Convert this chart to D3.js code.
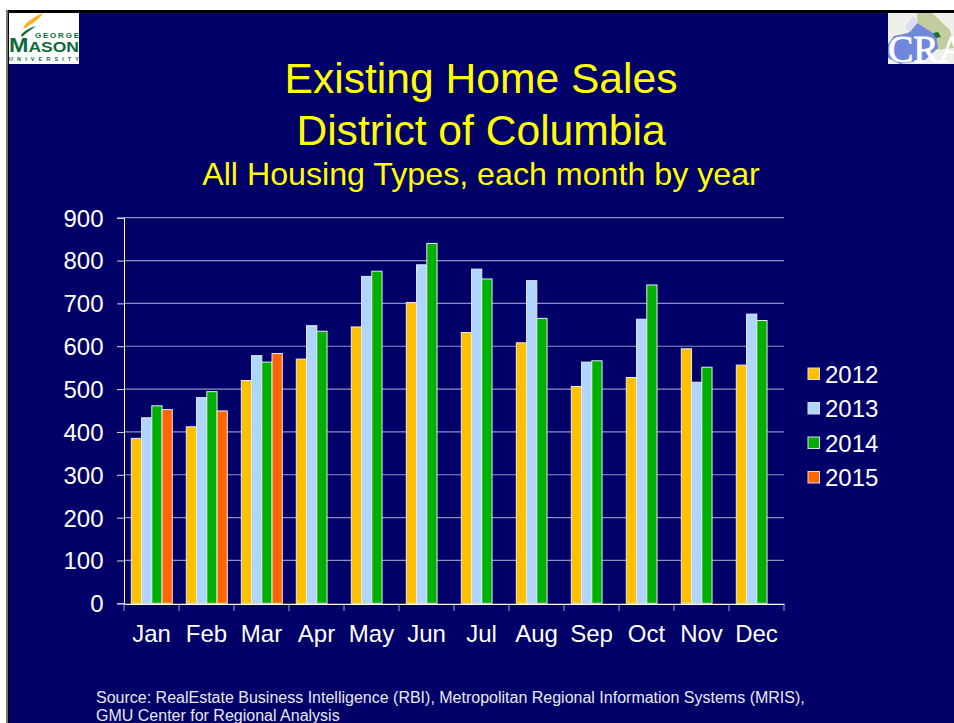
<!DOCTYPE html>
<html><head><meta charset="utf-8">
<script src="https://cdn.jsdelivr.net/npm/d3@7/dist/d3.min.js"></script>
<style>html,body{margin:0;padding:0;background:#fff;overflow:hidden}svg{display:block}text{font-family:"Liberation Sans",Arial,sans-serif}</style>
</head><body><svg id="c" width="954" height="723"></svg>
<script>
const months=["Jan","Feb","Mar","Apr","May","Jun","Jul","Aug","Sep","Oct","Nov","Dec"];
const years=["2012","2013","2014","2015"];
const colors=["#ffc000","#aed6ff","#00b000","#ff6600"];
const s2012=[385,412,520,570,645,702,632,608,506,527,594,556];
const s2013=[433,480,578,648,763,790,780,753,563,663,516,675];
const s2014=[461,494,563,635,775,840,757,665,566,743,551,660];
const s2015=[452,449,583];
const series=[s2012,s2013,s2014,s2015];
const yTicks=d3.range(0,901,100);
const titleLines=["Existing Home Sales","District of Columbia"];
const subtitle="All Housing Types, each month by year";
const source=["Source: RealEstate Business Intelligence (RBI), Metropolitan Regional Information Systems (MRIS),","GMU Center for Regional Analysis"];

const svg=d3.select("#c");
svg.append("rect").attr("x",6).attr("y",10).attr("width",948).attr("height",713).attr("fill","#000");
svg.append("rect").attr("x",6).attr("y",10).attr("width",2).attr("height",713).attr("fill","#777");
svg.append("rect").attr("x",9).attr("y",13).attr("width",945).attr("height",710).attr("fill","#000068");

// George Mason logo
const gm=svg.append("g");
gm.append("rect").attr("x",9).attr("y",13).attr("width",70).attr("height",51).attr("fill","#fff");
gm.append("path").attr("d","M23 28 C27 21 34 17 43 13 C39 20 33 23 25 28Z").attr("fill","#f2b51c");
gm.append("path").attr("d","M21 35 C25 30 30 28 36 26 C31 30 27 32 22 37Z").attr("fill","#0b6b3a");
gm.append("text").attr("x",79).attr("y",37.5).attr("text-anchor","end").attr("font-size",8).attr("font-weight","bold").attr("textLength",44).attr("fill","#0b6b3a").text("GEORGE");
const mason=gm.append("text").attr("x",9).attr("y",52).attr("font-weight","bold").attr("textLength",70).attr("lengthAdjust","spacingAndGlyphs").attr("fill","#0b6b3a");
mason.append("tspan").attr("font-size",20).text("M");
mason.append("tspan").attr("font-size",15).text("ASON");
gm.append("text").attr("x",9).attr("y",61).attr("font-size",5.5).attr("font-weight","bold").attr("textLength",70).attr("fill","#0b6b3a").text("UNIVERSITY");

// CRA logo
const cra=svg.append("g");
cra.append("rect").attr("x",888).attr("y",13).attr("width",66).attr("height",51).attr("fill","#eef0ea");
cra.append("path").attr("d","M917 13 L932 13 L950 30 L954 48 L935 50 L918 30Z").attr("fill","#c2cc9c");
cra.append("path").attr("d","M894 36 L908 33 L917 23 L925 28 L936 35 L938 48 L925 60 L900 64 L888 58 L888 44Z").attr("fill","#6f88dc");
cra.append("path").attr("d","M905 27 L913 16 L918 22 L910 32Z").attr("fill","#dcdcf2");
cra.append("path").attr("d","M933 33 L938 32 L941 37 L936 38Z").attr("fill","#1e6b3c");
cra.append("text").attr("x",888).attr("y",62).attr("font-size",38).attr("stroke","#fff").attr("stroke-width",0.8).style("font-family","'Liberation Serif',serif").attr("fill","#fff").text("CRA");

// Titles
svg.selectAll("text.t").data(titleLines).join("text").attr("class","t")
  .attr("x",481).attr("y",(d,i)=>93+i*52).attr("text-anchor","middle").attr("font-size",42.6).attr("fill","#ffff00").text(d=>d);
svg.append("text").attr("x",481).attr("y",185).attr("text-anchor","middle").attr("font-size",32.2).attr("fill","#ffff00").text(subtitle);

// Scales
const x=d3.scaleBand().domain(months).range([124,784]).paddingInner(0);
const y=d3.scaleLinear().domain([0,900]).range([603.3,217.7]);
const slot=d3.scaleBand().domain(d3.range(4)).range([7.3,7.3+41]);

// Grid
svg.append("g").selectAll("line").data(yTicks.slice(1)).join("line")
  .attr("x1",124).attr("x2",784).attr("y1",d=>y(d)).attr("y2",d=>y(d))
  .attr("stroke","#8f8fc4").attr("stroke-width",1.2);

// Bars
series.forEach((vals,si)=>{
  svg.append("g").selectAll("rect").data(vals).join("rect")
    .attr("x",(d,i)=>x(months[i])+slot(si))
    .attr("y",d=>y(d))
    .attr("width",slot.bandwidth())
    .attr("height",d=>y(0)-y(d))
    .attr("fill",colors[si])
    .attr("stroke","#e8e8f4").attr("stroke-width",1);
});

// Axes
const yAxis=d3.axisLeft(y).tickValues(yTicks).tickSize(7).tickFormat(d3.format("d"));
const gy=svg.append("g").attr("transform","translate(124,0)").call(yAxis);
gy.select(".domain").attr("stroke","#fff");
gy.selectAll("line").attr("stroke","#d8d8e8");
gy.selectAll("text").attr("font-size",24).attr("fill","#fff").attr("x",-20.5).attr("dy","0.35em").style("font-family",'"Liberation Sans",Arial,sans-serif');

const xAxis=d3.axisBottom(x).tickSize(0);
const gx=svg.append("g").attr("transform","translate(0,603.8)").call(xAxis);
gx.select(".domain").attr("stroke","#fff").attr("stroke-width",1.3);
gx.selectAll("text").attr("font-size",24).attr("fill","#fff").attr("y",38).attr("dy",0).style("font-family",'"Liberation Sans",Arial,sans-serif');
svg.append("g").selectAll("line").data(months.map(m=>x(m)).concat([784])).join("line")
  .attr("x1",d=>d).attr("x2",d=>d).attr("y1",604).attr("y2",611).attr("stroke","#a8a8cc");

// Legend
const lg=svg.append("g").selectAll("g").data(years).join("g")
  .attr("transform",(d,i)=>`translate(808,${374+i*34.5})`);
lg.append("rect").attr("x",0).attr("y",-6).attr("width",11.5).attr("height",11.5)
  .attr("fill",(d,i)=>colors[i]).attr("stroke","#dcdcec").attr("stroke-width",1);
lg.append("text").attr("x",17).attr("y",8.5).attr("font-size",24).attr("fill","#fff").text(d=>d);

// Source
svg.selectAll("text.s").data(source).join("text").attr("class","s")
  .attr("x",96).attr("y",(d,i)=>703+i*17.8).attr("font-size",16).attr("fill","#e8e8f4").text(d=>d);
</script></body></html>
